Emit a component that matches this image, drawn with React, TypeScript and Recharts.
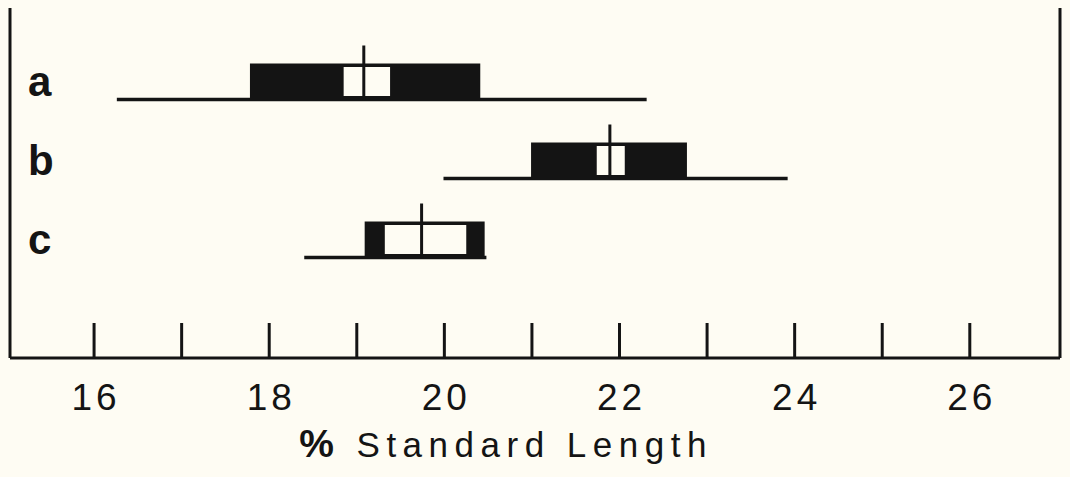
import { ComposedChart, Bar, XAxis, YAxis } from 'recharts'

// ==================== Data ====================

const CATEGORIES = ['a', 'b', 'c']
const RANGE_MIN = [16.26, 19.99, 18.4]
const RANGE_MAX = [22.31, 23.92, 20.48]
const BOX_LO = [17.78, 20.99, 19.09]
const BOX_HI = [20.41, 22.77, 20.46]
const CI_LO = [18.85, 21.74, 19.32]
const CI_HI = [19.38, 22.06, 20.25]
const MEANS = [19.08, 21.89, 19.74]
const X_TICKS = [16, 17, 18, 19, 20, 21, 22, 23, 24, 25, 26]
const X_LABEL = '% Standard Length'

const data = CATEGORIES.map((name, i) => ({
  name,
  min: RANGE_MIN[i],
  max: RANGE_MAX[i],
  boxLo: BOX_LO[i],
  boxHi: BOX_HI[i],
  ciLo: CI_LO[i],
  ciHi: CI_HI[i],
  mean: MEANS[i],
}))

// ==================== Styles ====================

const INK = '#141414'
const PAPER = '#fefcf3'
const FONT = '"Liberation Sans", Arial, Helvetica, sans-serif'
const BOX_H = 36

// ==================== Marks ====================

// One ranged bar per row spans [min, max]; the inner boxes are placed
// along that same pixel span so everything follows the x scale.
function HubbsShape(props: any) {
  const { x, y, width, height, payload } = props
  const px = (v: number) => x + ((v - payload.min) / (payload.max - payload.min)) * width
  const base = y + height
  const top = base - BOX_H
  return (
    <g>
      <line x1={x} x2={x + width} y1={base} y2={base} stroke={INK} strokeWidth={3.5} />
      <rect x={px(payload.boxLo)} y={top} width={px(payload.boxHi) - px(payload.boxLo)} height={BOX_H} fill={INK} />
      <rect
        x={px(payload.ciLo)}
        y={top + 3.5}
        width={px(payload.ciHi) - px(payload.ciLo)}
        height={BOX_H - 7}
        fill={PAPER}
      />
      <line x1={px(payload.mean)} x2={px(payload.mean)} y1={y} y2={base} stroke={INK} strokeWidth={3} />
    </g>
  )
}

function XTick({ x, y, payload }: any) {
  const v = payload.value as number
  return (
    <g>
      <line x1={x} x2={x} y1={y - 35} y2={y} stroke={INK} strokeWidth={3} />
      {v % 2 === 0 && (
        <text
          x={x + 2}
          y={y + 52}
          textAnchor="middle"
          fontFamily={FONT}
          fontSize={37}
          letterSpacing={4}
          fill={INK}
        >
          {v}
        </text>
      )}
    </g>
  )
}

function YTick({ x, y, payload }: any) {
  return (
    <text x={x + 18} y={y + 24} fontFamily={FONT} fontSize={42} fontWeight="bold" fill={INK}>
      {payload.value}
    </text>
  )
}

function AxisTitle({ viewBox }: any) {
  return (
    <text
      x={viewBox.x + viewBox.width / 2 - 29}
      y={457}
      textAnchor="middle"
      fontFamily={FONT}
      fontSize={35}
      letterSpacing={6.5}
      fill={INK}
    >
      <tspan fontWeight="bold" fontSize={39}>%</tspan> {X_LABEL.slice(2)}
    </text>
  )
}

// ==================== Chart ====================

export default function App() {
  return (
    <div style={{ position: 'fixed', left: 0, top: 0, width: 1070, height: 477, background: PAPER }}>
      <ComposedChart
        width={1070}
        height={477}
        data={data}
        layout="vertical"
        margin={{ top: 8, right: 10, bottom: 0, left: 10 }}
      >
        <XAxis
          type="number"
          domain={[15.04, 27.03]}
          allowDataOverflow
          ticks={X_TICKS}
          interval={0}
          height={119}
          tickSize={0}
          tickMargin={0}
          tick={<XTick />}
          axisLine={{ stroke: INK, strokeWidth: 3 }}
          label={<AxisTitle />}
        />
        <YAxis
          type="category"
          dataKey="name"
          mirror
          padding={{ top: 24.5, bottom: 88.5 }}
          tickSize={0}
          tickMargin={0}
          tickLine={false}
          tick={<YTick />}
          axisLine={{ stroke: INK, strokeWidth: 3 }}
        />
        <YAxis
          yAxisId="r"
          type="category"
          dataKey="name"
          orientation="right"
          mirror
          tick={false}
          tickLine={false}
          axisLine={{ stroke: INK, strokeWidth: 3 }}
        />
        <Bar
          dataKey={(d: any) => [d.min, d.max]}
          barSize={54}
          shape={<HubbsShape />}
          isAnimationActive={false}
        />
      </ComposedChart>
    </div>
  )
}
